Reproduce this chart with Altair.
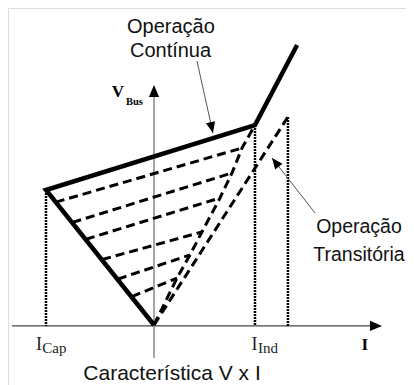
import altair as alt
import pandas as pd

# ---- schematic values (I on x, V_Bus on y; I_Cap = -1, V at I_Cap = 1) ----
# continuous-operation envelope: origin -> I_Cap corner -> I_Ind corner -> overload branch
env_i = [0.0, -1.0, 0.935, 1.325]
env_v = [0.0, 1.0, 1.481, 2.074]

# transient boundary (dashed) from origin up to the I_Ind corner
bnd_i = [0.0, 0.213, 0.333, 0.444, 0.611, 0.722, 0.815, 0.935]
bnd_v = [0.0, 0.348, 0.519, 0.689, 0.941, 1.126, 1.311, 1.481]

# transient trajectories: start on capacitive branch, end on the boundary
tr_start_i = [-0.91, -0.755, -0.63, -0.48, -0.335, -0.205]
tr_start_v = [0.91, 0.76, 0.635, 0.485, 0.34, 0.21]
tr_end_i = [0.815, 0.722, 0.611, 0.444, 0.333, 0.213]
tr_end_v = [1.311, 1.126, 0.941, 0.689, 0.519, 0.348]

# extended transient limit
ext_i = [0.0, 1.24]
ext_v = [0.0, 1.541]

# dotted projections down to the I axis
drop_i = [-1.0, 0.935, 1.24]
drop_v = [1.0, 1.481, 1.541]

# axes
haxis_i = [-1.315, 2.07]
haxis_v = [-0.007, -0.007]
vaxis_i = [0.0, 0.0]
vaxis_v = [-0.244, 1.70]

# annotation arrows (tail -> tip)
ann_tail_i = [0.398, 1.491]
ann_tail_v = [1.956, 0.830]
ann_tip_i = [0.546, 1.093]
ann_tip_v = [1.422, 1.237]
ann_angle = [167, 322]

# axis arrow heads
axhead_i = [2.111, 0.0]
axhead_v = [-0.007, 1.778]
axhead_angle = [90, 0]

# ---- build tables ----
rows = []
def add(kind, seg, xs, ys):
    for k, (a, b) in enumerate(zip(xs, ys)):
        rows.append({"kind": kind, "seg": seg, "ord": k, "x": a, "y": b})

add("env", "env", env_i, env_v)
add("dash", "bnd", bnd_i, bnd_v)
add("dash", "ext", ext_i, ext_v)
for j in range(len(tr_start_i)):
    add("dash", f"tr{j}", [tr_start_i[j], tr_end_i[j]], [tr_start_v[j], tr_end_v[j]])
for j in range(len(drop_i)):
    add("dot", f"drop{j}", [drop_i[j], drop_i[j]], [drop_v[j], -0.007])
add("haxis", "h", haxis_i, haxis_v)
add("vaxis", "v", vaxis_i, vaxis_v)
for j in range(len(ann_tail_i)):
    add("ann", f"a{j}", [ann_tail_i[j], ann_tip_i[j]], [ann_tail_v[j], ann_tip_v[j]])
lines = pd.DataFrame(rows)

heads_ann = pd.DataFrame({"x": ann_tip_i, "y": ann_tip_v, "angle": ann_angle})
heads_ax = pd.DataFrame({"x": axhead_i, "y": axhead_v, "angle": axhead_angle})

top_labels = pd.DataFrame({
    "text": ["Operação", "Contínua"],
    "x": [0.157, 0.153],
    "y": [2.165, 1.987],
})
right_labels = pd.DataFrame({
    "text": ["Operação", "Transitória"],
    "x": [1.898, 1.898],
    "y": [0.679, 0.474],
})
caption = pd.DataFrame({"text": ["Característica V x I"], "x": [0.167], "y": [-0.408]})

serif_main = pd.DataFrame({
    "text": ["I", "I"],
    "x": [-1.093, 0.903],
    "y": [-0.185, -0.185],
})
serif_sub = pd.DataFrame({
    "text": ["Cap", "Ind"],
    "x": [-1.034, 0.963],
    "y": [-0.205, -0.204],
})
bold_main = pd.DataFrame({"text": ["V", "I"], "x": [-0.392, 1.921], "y": [1.687, -0.185]})
bold_sub = pd.DataFrame({"text": ["Bus"], "x": [-0.259], "y": [1.630]})

# ---- scales ----
W, H = 398, 377
xs = alt.Scale(domain=[(8 - 154) / 108, (8 + W - 154) / 108], nice=False, zero=False)
ys = alt.Scale(domain=[(325 - 8 - H) / 135, (325 - 8) / 135], nice=False, zero=False)
X = alt.X("x:Q", scale=xs, axis=None)
Y = alt.Y("y:Q", scale=ys, axis=None)

base = alt.Chart(lines)

def line_layer(kind, **style):
    return base.transform_filter(alt.datum.kind == kind).mark_line(**style).encode(
        x=X, y=Y, detail="seg:N", order="ord:Q")

haxis = line_layer("haxis", color="#444444", strokeWidth=1.3)
vaxis = line_layer("vaxis", color="#8a8a8a", strokeWidth=1.5)
dots = line_layer("dot", color="#000000", strokeWidth=2.5, strokeDash=[2, 1])
dashes = line_layer("dash", color="#000000", strokeWidth=3, strokeDash=[9, 5])
env = line_layer("env", color="#000000", strokeWidth=4.5, strokeJoin="miter")
ann = line_layer("ann", color="#555555", strokeWidth=1)

head_shape = "M0,0L-0.85,2L0.85,2Z"
ann_heads = alt.Chart(heads_ann).mark_point(
    shape=head_shape, filled=True, color="#000000", opacity=1, size=121, strokeWidth=0
).encode(x=X, y=Y, angle=alt.Angle("angle:Q", scale=None))
ax_heads = alt.Chart(heads_ax).mark_point(
    shape=head_shape, filled=True, color="#000000", opacity=1, size=144, strokeWidth=0
).encode(x=X, y=Y, angle=alt.Angle("angle:Q", scale=None))

t_top = alt.Chart(top_labels).mark_text(
    font="Liberation Sans", fontSize=20, align="center", baseline="alphabetic", color="#111111"
).encode(x=X, y=Y, text="text:N")
t_right = alt.Chart(right_labels).mark_text(
    font="Liberation Sans", fontSize=19.5, align="center", baseline="alphabetic", color="#111111"
).encode(x=X, y=Y, text="text:N")
t_cap = alt.Chart(caption).mark_text(
    font="Liberation Sans", fontSize=21, align="center", baseline="alphabetic", color="#111111"
).encode(x=X, y=Y, text="text:N")
t_serif = alt.Chart(serif_main).mark_text(
    font="Liberation Serif", fontSize=18, align="left", baseline="alphabetic", color="#222222"
).encode(x=X, y=Y, text="text:N")
t_serif_sub = alt.Chart(serif_sub).mark_text(
    font="Liberation Serif", fontSize=15, align="left", baseline="alphabetic", color="#222222"
).encode(x=X, y=Y, text="text:N")
t_bold = alt.Chart(bold_main).mark_text(
    font="Liberation Serif", fontSize=17, fontWeight="bold", align="left", baseline="alphabetic", color="#000000"
).encode(x=X, y=Y, text="text:N")
t_bold_sub = alt.Chart(bold_sub).mark_text(
    font="Liberation Serif", fontSize=10.5, fontWeight="bold", align="left", baseline="alphabetic", color="#000000"
).encode(x=X, y=Y, text="text:N")

chart = alt.layer(
    haxis, vaxis, dots, dashes, env, ann, ann_heads, ax_heads,
    t_top, t_right, t_cap, t_serif, t_serif_sub, t_bold, t_bold_sub
).properties(
    width=W, height=H, autosize=alt.AutoSizeParams(type="none"), padding=0
).configure_view(stroke=None).configure(background="white")

chart.save("out.html", embed_options={"renderer": "svg", "actions": False})
